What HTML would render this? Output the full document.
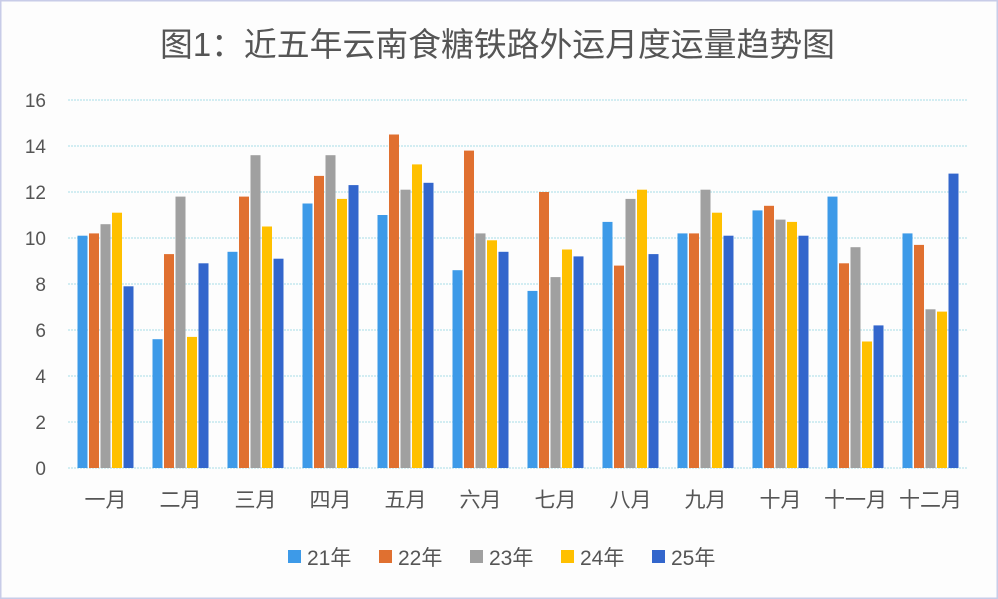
<!DOCTYPE html>
<html><head><meta charset="utf-8"><style>
body{margin:0;background:#fff}
svg{display:block}
text{font-family:"Liberation Sans","Noto Sans CJK SC",sans-serif}
</style></head><body>
<svg id="s" width="998" height="599" viewBox="0 0 998 599">
<rect x="0.5" y="0.5" width="997" height="598" fill="#fdfdfd" stroke="#c8cce8" stroke-width="2"/>
<text x="160" y="56" font-size="33" fill="#555" textLength="675" lengthAdjust="spacingAndGlyphs">图1：近五年云南食糖铁路外运月度运量趋势图</text>
<g id="g"></g>
</svg>
<script>
var g=document.getElementById('g'),h='';
var x0=68,x1=968,y0=468,u=23;
for(var i=0;i<=8;i++){var y=y0-i*2*u;
h+='<line x1="'+x0+'" x2="'+x1+'" y1="'+y+'" y2="'+y+'" stroke="#a8dde6" stroke-width="1" stroke-dasharray="2,1"/>';
h+='<text x="46" y="'+(y+7)+'" font-size="19" fill="#555" text-anchor="end">'+(i*2)+'</text>';}
var d=[[10.1,10.2,10.6,11.1,7.9],[5.6,9.3,11.8,5.7,8.9],[9.4,11.8,13.6,10.5,9.1],[11.5,12.7,13.6,11.7,12.3],[11.0,14.5,12.1,13.2,12.4],[8.6,13.8,10.2,9.9,9.4],[7.7,12.0,8.3,9.5,9.2],[10.7,8.8,11.7,12.1,9.3],[10.2,10.2,12.1,11.1,10.1],[11.2,11.4,10.8,10.7,10.1],[11.8,8.9,9.6,5.5,6.2],[10.2,9.7,6.9,6.8,12.8]];
var c=['#3d9ae8','#e07030','#a0a0a0','#ffc000','#3366cc'];
var m=['一月','二月','三月','四月','五月','六月','七月','八月','九月','十月','十一月','十二月'];
var cw=(x1-x0)/12;
for(var k=0;k<12;k++){var cx=x0+cw*k+cw/2;
for(var s=0;s<5;s++){var v=d[k][s],bx=cx-28+s*11.5,by=y0-v*u;
h+='<rect x="'+bx+'" y="'+by+'" width="10" height="'+(v*u)+'" fill="'+c[s]+'"/>';}
h+='<text x="'+cx+'" y="507" font-size="21" fill="#555" text-anchor="middle">'+m[k]+'</text>';}
for(var s=0;s<5;s++){var lx=288+s*91;
h+='<rect x="'+lx+'" y="550" width="13" height="13" fill="'+c[s]+'"/>';
h+='<text x="'+(lx+19)+'" y="565" font-size="21" fill="#555">'+(21+s)+'年</text>';}
g.innerHTML=h;
</script>
</body></html>
